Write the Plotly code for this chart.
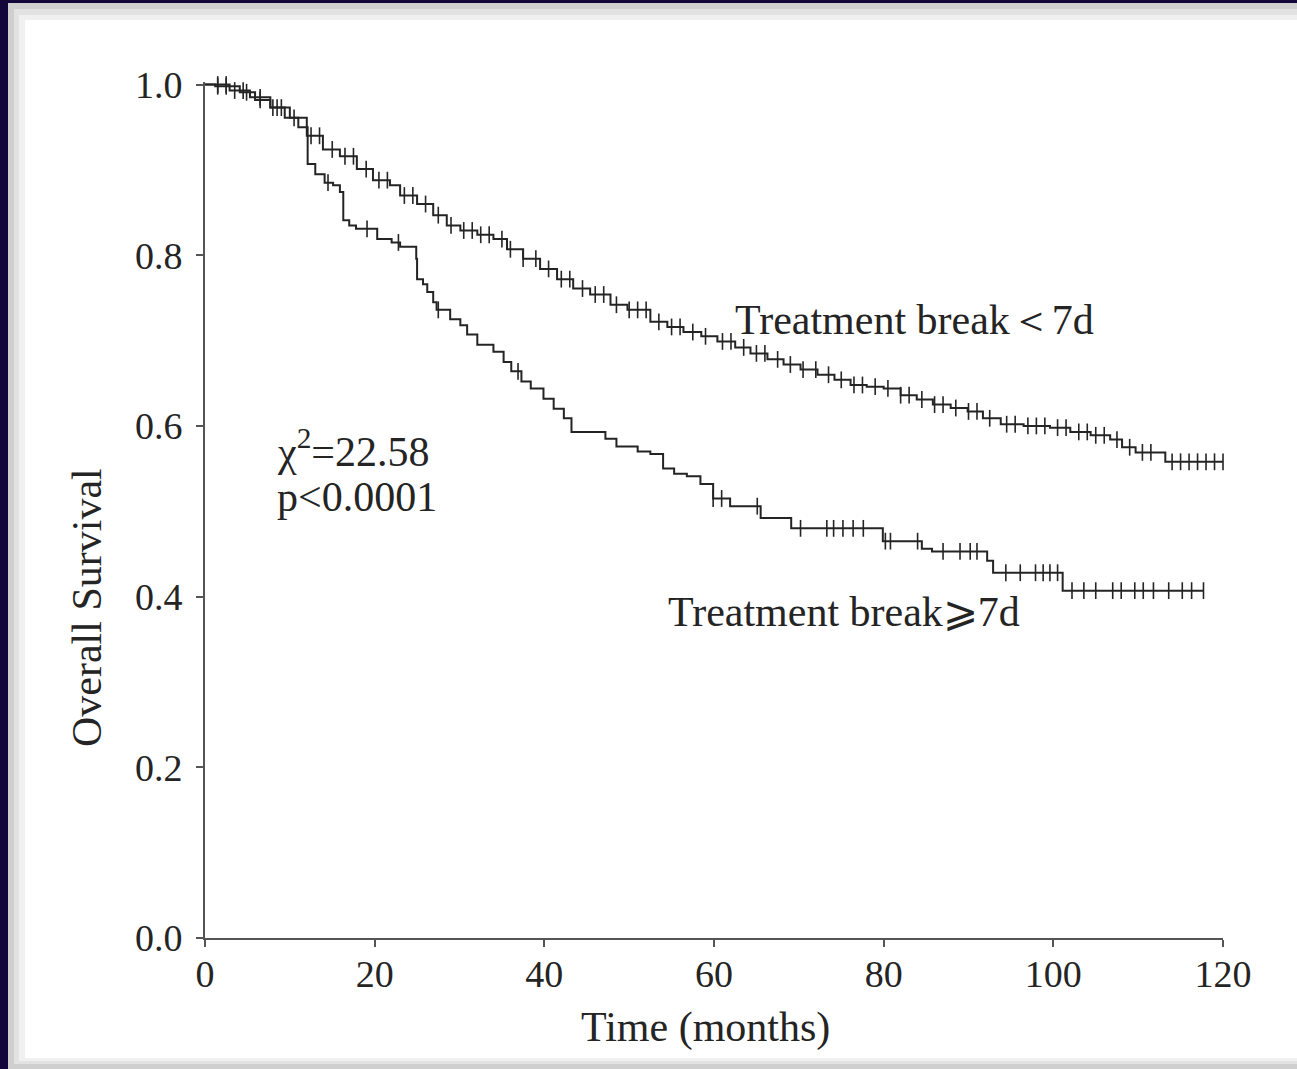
import numpy as np
import plotly.graph_objects as go

# ---------------- data ----------------
x_ticks = [0, 20, 40, 60, 80, 100, 120]
y_ticks = [0.0, 0.2, 0.4, 0.6, 0.8, 1.0]
y_tick_labels = ["0.0", "0.2", "0.4", "0.6", "0.8", "1.0"]

# Treatment break < 7d : step times (months) and survival
lt7_time = [0, 2.9, 5.3, 7.7, 10.0, 12.0, 13.9, 15.9, 17.9, 19.8, 21.8, 23.0, 25.0,
            26.9, 28.5, 30.1, 32.1, 34.0, 35.6, 37.5, 39.5, 41.5, 43.4, 45.4, 47.8,
            49.8, 52.5, 54.5, 56.4, 58.5, 60.4, 62.5, 64.3, 66.3, 68.2, 70.2, 72.2,
            74.2, 76.1, 78.0, 80.0, 82.0, 83.9, 85.8, 87.9, 89.9, 91.7, 93.8, 96.5,
            99.6, 102.0, 104.4, 106.7, 108.1, 109.7, 113.2, 120.0]
lt7_surv = [1.0, 0.993, 0.985, 0.973, 0.961, 0.940, 0.924, 0.916, 0.901, 0.888, 0.882,
            0.870, 0.860, 0.847, 0.835, 0.829, 0.824, 0.819, 0.807, 0.796, 0.784, 0.772,
            0.761, 0.754, 0.742, 0.736, 0.722, 0.716, 0.710, 0.705, 0.699, 0.692, 0.685,
            0.678, 0.672, 0.666, 0.660, 0.654, 0.648, 0.646, 0.644, 0.636, 0.631, 0.625,
            0.621, 0.617, 0.609, 0.602, 0.600, 0.598, 0.593, 0.589, 0.584, 0.575, 0.569,
            0.558, 0.558]
lt7_censor = [1.5, 2.5, 3.5, 4.5, 6.5, 8.0, 9.0, 10.5, 12.5, 13.5, 15.0, 16.5, 17.5,
              19.0, 20.5, 21.5, 23.5, 24.5, 26.0, 27.5, 29.0, 30.5, 31.5, 32.5, 33.5,
              35.0, 36.0, 37.5, 39.0, 40.5, 42.0, 43.0, 44.5, 46.0, 47.0, 48.5, 50.0,
              51.0, 52.0, 53.5, 55.0, 56.0, 57.5, 59.0, 61.0, 62.0, 63.5, 65.0, 66.0,
              67.5, 69.0, 70.5, 72.0, 73.5, 75.0, 76.5, 77.5, 79.0, 80.5, 82.0, 83.0,
              84.5, 86.0, 87.0, 88.5, 90.0, 91.0, 92.5, 94.5, 95.5, 97.0, 98.0, 99.0,
              100.5, 101.5, 103.0, 104.0, 105.0, 106.0, 107.5, 109.0, 110.5, 111.5,
              114.0, 115.0, 116.0, 117.0, 118.0, 119.0, 120.0]

# Treatment break >= 7d
ge7_time = [0, 1.2, 4.1, 5.9, 7.7, 9.4, 11.0, 12.1, 13.0, 14.1, 15.1, 15.9, 16.3, 17.0,
            17.8, 20.3, 22.0, 23.0, 24.9, 25.0, 25.7, 26.2, 26.9, 27.3, 28.9, 30.1,
            30.9, 32.1, 34.0, 35.2, 36.1, 37.3, 38.4, 39.9, 41.1, 42.3, 43.2, 47.2,
            48.5, 51.0, 52.5, 54.0, 55.3, 56.8, 58.4, 59.9, 61.9, 65.5, 69.1, 79.9,
            84.5, 85.7, 92.2, 92.9, 101.1, 117.7]
ge7_surv = [1.0, 0.998, 0.991, 0.982, 0.973, 0.961, 0.950, 0.907, 0.895, 0.885, 0.882,
            0.874, 0.841, 0.835, 0.831, 0.819, 0.815, 0.810, 0.796, 0.772, 0.766, 0.757,
            0.745, 0.736, 0.725, 0.718, 0.707, 0.695, 0.687, 0.675, 0.664, 0.652, 0.644,
            0.632, 0.620, 0.609, 0.593, 0.585, 0.576, 0.570, 0.567, 0.550, 0.544, 0.541,
            0.532, 0.515, 0.506, 0.492, 0.480, 0.465, 0.456, 0.453, 0.442, 0.428, 0.407,
            0.407]
ge7_censor = [1.5, 2.5, 4.9, 6.5, 8.5, 14.5, 19.1, 22.8, 27.5, 36.9, 59.9, 60.9, 65.1,
              70.2, 73.3, 74.1, 75.2, 76.4, 77.6, 80.2, 80.8, 84.0, 87.0, 89.0, 90.2,
              91.0, 94.4, 96.1, 97.9, 98.8, 99.6, 100.5, 102.2, 103.6, 105.0, 107.0,
              108.0, 109.6, 110.6, 111.8, 113.6, 115.2, 116.3, 117.7]

# ---------------- helpers ----------------
def step_value(times, surv, t):
    idx = np.searchsorted(np.array(times), np.array(t), side="right") - 1
    return np.array(surv)[idx]

# ---------------- figure ----------------
W, H = 1297, 1069
L, R, T, B = 205, 74, 82, 131
PW, PH = W - L - R, H - T - B

def px(xp):
    return (xp - L) / PW

def py(yp):
    return (H - B - yp) / PH

INK = "#242424"
SERIF = "Liberation Serif, Times New Roman, serif"

fig = go.Figure()

for times, surv, cens in [(lt7_time, lt7_surv, lt7_censor), (ge7_time, ge7_surv, ge7_censor)]:
    fig.add_trace(go.Scatter(x=times, y=surv, mode="lines", line=dict(color=INK, width=2, shape="hv"),
                             showlegend=False, hoverinfo="skip"))
    fig.add_trace(go.Scatter(x=cens, y=step_value(times, surv, cens), mode="markers",
                             marker=dict(symbol="line-ns", size=12, line=dict(color=INK, width=1.6)),
                             showlegend=False, hoverinfo="skip", cliponaxis=False))

# background panel with shadow
shapes = [
    dict(type="rect", xref="paper", yref="paper", x0=px(8), x1=px(1310), y0=py(1069), y1=py(3),
         fillcolor="#cfcfcf", line=dict(width=0), layer="below"),
    dict(type="rect", xref="paper", yref="paper", x0=px(14), x1=px(1310), y0=py(1064), y1=py(9),
         fillcolor="#e2e2e2", line=dict(width=0), layer="below"),
    dict(type="rect", xref="paper", yref="paper", x0=px(19), x1=px(1310), y0=py(1061), y1=py(15),
         fillcolor="#f0f0f0", line=dict(width=0), layer="below"),
    dict(type="rect", xref="paper", yref="paper", x0=px(25), x1=px(1310), y0=py(1058), y1=py(20),
         fillcolor="white", line=dict(width=0), layer="below"),
]

ann_font = dict(family=SERIF, size=42, color=INK)
annotations = [
    dict(x=8.2, y=0.574, xref="x", yref="y", text="χ<sup>2</sup>=22.58", showarrow=False,
         xanchor="left", yanchor="middle", font=ann_font),
    dict(x=8.2, y=0.517, xref="x", yref="y", text="p&lt;0.0001", showarrow=False,
         xanchor="left", yanchor="middle", font=ann_font),
    dict(x=62.2, y=0.724, xref="x", yref="y", text="Treatment break＜7d", showarrow=False,
         xanchor="left", yanchor="middle", font=ann_font),
    dict(x=54.4, y=0.382, xref="x", yref="y", text="Treatment break⩾7d", showarrow=False,
         xanchor="left", yanchor="middle", font=ann_font),
    # axis titles
    dict(x=px(705), y=py(1027), xref="paper", yref="paper", text="Time (months)", showarrow=False,
         xanchor="center", yanchor="middle", font=ann_font),
    dict(x=px(87), y=py(608), xref="paper", yref="paper", text="Overall Survival", showarrow=False,
         textangle=-90, xanchor="center", yanchor="middle", font=ann_font),
]

fig.update_layout(
    width=W, height=H,
    margin=dict(l=L, r=R, t=T, b=B, pad=0),
    paper_bgcolor="#13063a",
    plot_bgcolor="rgba(0,0,0,0)",
    shapes=shapes,
    annotations=annotations,
    showlegend=False,
)

tick_font = dict(family=SERIF, size=38, color=INK)
fig.update_xaxes(
    range=[0, 120], tickmode="array", tickvals=x_ticks, ticktext=[str(v) for v in x_ticks],
    showline=True, linecolor="#555", linewidth=2, ticks="outside", ticklen=7, tickwidth=2,
    tickcolor="#555", showgrid=False, zeroline=False, tickfont=tick_font, ticklabelstandoff=-6,
)
fig.update_yaxes(
    range=[0, 1.003], tickmode="array", tickvals=y_ticks, ticktext=y_tick_labels,
    showline=True, linecolor="#555", linewidth=2, ticks="outside", ticklen=7, tickwidth=2,
    tickcolor="#555", showgrid=False, zeroline=False, tickfont=tick_font, ticklabelstandoff=6,
)

fig.write_html("out.html")
